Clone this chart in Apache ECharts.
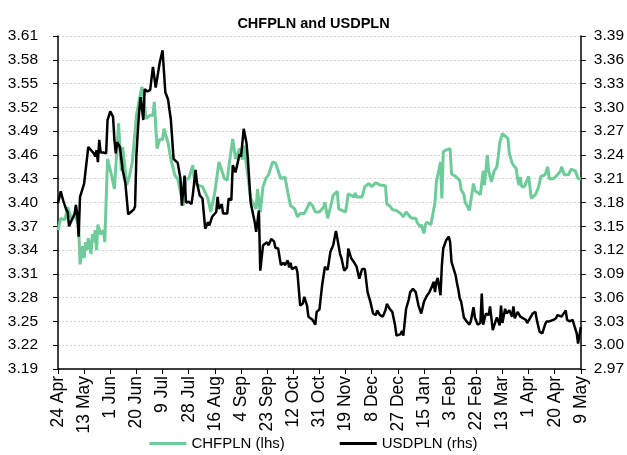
<!DOCTYPE html>
<html>
<head>
<meta charset="utf-8">
<script src="https://cdn.jsdelivr.net/npm/echarts@6/dist/echarts.min.js"></script>
<style>html,body{margin:0;padding:0;background:#fff}#c{width:627px;height:455px}</style>
</head>
<body>
<div id="c"></div>
<script>
// Days counted from 24 Apr 2017 (day 0) to 9 May 2018 (day 380)
const startDate = '2017-04-24';
const tickLabels = ['24 Apr','13 May','1 Jun','20 Jun','9 Jul','28 Jul','16 Aug','4 Sep','23 Sep','12 Oct','31 Oct','19 Nov','8 Dec','27 Dec','15 Jan','3 Feb','22 Feb','13 Mar','1 Apr','20 Apr','9 May'];

const chfDays = [0,2,5,7,10,12,15,16,17,18,19,20,21,22,24,25,26,27,28,29,31,33,34,36,39,41,44,46,47,50,52,54,57,59,61,62,63,64,67,69,70,72,74,76,77,80,82,85,87,88,91,93,95,98,99,101,105,109,111,114,117,121,123,124,127,129,132,134,135,138,140,144,145,147,149,151,153,156,158,162,165,167,169,172,174,176,179,183,185,187,190,193,194,196,198,200,203,204,209,211,215,216,217,221,223,226,228,229,231,234,238,239,241,243,246,249,251,253,255,257,260,261,263,264,266,267,268,271,272,274,275,278,279,280,282,285,286,289,292,293,295,296,297,299,302,303,307,308,309,310,312,313,315,317,319,320,321,323,327,328,330,331,333,334,335,336,337,339,342,343,344,347,349,351,354,356,357,360,362,365,366,368,371,373,376,378,380];
const chfValues = [3.365,3.38,3.378,3.394,3.378,3.385,3.372,3.322,3.335,3.345,3.33,3.35,3.34,3.355,3.335,3.36,3.35,3.365,3.34,3.372,3.36,3.365,3.35,3.455,3.434,3.417,3.50,3.44,3.47,3.422,3.434,3.451,3.51,3.529,3.546,3.546,3.52,3.506,3.51,3.51,3.527,3.468,3.48,3.479,3.493,3.475,3.455,3.434,3.43,3.422,3.396,3.43,3.43,3.447,3.43,3.422,3.42,3.405,3.388,3.413,3.451,3.43,3.428,3.443,3.48,3.455,3.468,3.454,3.472,3.434,3.405,3.392,3.417,3.388,3.42,3.43,3.435,3.451,3.45,3.43,3.432,3.413,3.396,3.392,3.382,3.386,3.386,3.40,3.396,3.388,3.388,3.394,3.40,3.38,3.394,3.409,3.414,3.392,3.388,3.411,3.407,3.412,3.407,3.407,3.42,3.424,3.42,3.42,3.425,3.422,3.421,3.398,3.396,3.391,3.39,3.386,3.382,3.388,3.384,3.38,3.38,3.375,3.369,3.372,3.361,3.372,3.375,3.372,3.371,3.40,3.426,3.451,3.405,3.464,3.466,3.468,3.436,3.433,3.428,3.416,3.41,3.40,3.397,3.39,3.424,3.415,3.41,3.409,3.44,3.422,3.46,3.44,3.426,3.44,3.445,3.458,3.475,3.487,3.481,3.462,3.45,3.447,3.443,3.43,3.422,3.432,3.42,3.42,3.433,3.42,3.405,3.41,3.418,3.433,3.435,3.445,3.43,3.43,3.433,3.439,3.445,3.435,3.435,3.442,3.44,3.43,3.43];

const usdDays = [0,2,4,6,7,8,10,12,13,14,15,16,18,19,20,22,23,26,27,28,29,30,31,33,35,36,38,40,41,42,43,45,47,49,51,53,55,56,57,58,59,60,62,63,65,67,68,69,71,72,74,76,77,78,80,81,82,84,87,89,90,92,93,95,97,98,100,101,103,105,107,109,110,112,115,116,117,119,120,123,124,126,127,129,130,132,133,135,137,138,140,143,144,146,147,149,152,153,155,157,158,160,162,164,165,167,168,169,170,173,174,176,178,179,181,182,185,187,188,190,192,194,196,198,200,202,203,205,206,208,210,211,213,215,217,219,221,223,225,227,229,231,232,234,236,238,239,241,243,245,246,249,250,251,253,255,256,258,260,262,264,266,268,270,272,273,274,275,276,278,279,280,282,284,285,286,289,290,291,292,293,295,297,299,300,302,303,305,307,308,309,311,313,314,316,318,319,321,322,323,325,326,328,330,331,332,333,334,336,338,340,341,343,345,347,348,350,352,354,355,356,357,358,360,361,362,363,366,367,369,370,372,374,375,377,378,380];
const usdValues = [3.179,3.194,3.181,3.171,3.168,3.15,3.158,3.165,3.177,3.165,3.137,3.187,3.198,3.204,3.204,3.25,3.251,3.242,3.238,3.246,3.231,3.259,3.243,3.243,3.242,3.284,3.295,3.288,3.259,3.242,3.256,3.25,3.221,3.204,3.165,3.168,3.171,3.175,3.24,3.27,3.295,3.313,3.284,3.323,3.32,3.322,3.323,3.351,3.325,3.326,3.357,3.372,3.372,3.319,3.31,3.297,3.285,3.235,3.23,3.21,3.176,3.214,3.18,3.181,3.178,3.19,3.221,3.205,3.189,3.185,3.147,3.155,3.151,3.162,3.168,3.187,3.172,3.178,3.166,3.166,3.185,3.183,3.227,3.218,3.216,3.241,3.238,3.273,3.255,3.235,3.18,3.155,3.143,3.17,3.094,3.126,3.13,3.126,3.134,3.131,3.123,3.122,3.101,3.104,3.101,3.107,3.098,3.104,3.096,3.099,3.092,3.05,3.053,3.061,3.05,3.036,3.032,3.026,3.042,3.045,3.076,3.099,3.095,3.118,3.126,3.144,3.135,3.115,3.11,3.094,3.098,3.122,3.11,3.105,3.099,3.084,3.096,3.096,3.067,3.055,3.04,3.038,3.044,3.038,3.036,3.044,3.052,3.046,3.042,3.025,3.012,3.014,3.018,3.012,3.046,3.058,3.067,3.071,3.067,3.05,3.04,3.055,3.062,3.067,3.075,3.08,3.067,3.08,3.085,3.063,3.101,3.122,3.132,3.137,3.13,3.105,3.088,3.078,3.07,3.059,3.055,3.035,3.03,3.026,3.03,3.048,3.035,3.026,3.028,3.065,3.026,3.04,3.038,3.049,3.019,3.03,3.035,3.025,3.05,3.028,3.046,3.04,3.044,3.036,3.049,3.034,3.036,3.042,3.036,3.034,3.032,3.028,3.034,3.04,3.042,3.032,3.017,3.015,3.026,3.03,3.028,3.03,3.028,3.032,3.03,3.034,3.038,3.036,3.038,3.044,3.032,3.03,3.032,3.03,3.015,3.002,3.023];

const leftTicks = {min: 3.19, max: 3.61, step: 0.03};
const rightTicks = {min: 2.97, max: 3.39, step: 0.03};

const FONT = "'Liberation Sans', Arial, sans-serif";
const chfData = chfDays.map((d, i) => [d, chfValues[i]]);
const usdData = usdDays.map((d, i) => [d, usdValues[i]]);

const chart = echarts.init(document.getElementById('c'), null, {renderer: 'canvas'});
chart.setOption({
  animation: false,
  backgroundColor: '#fff',
  title: {
    text: 'CHFPLN and USDPLN', left: 'center', top: 11,
    textStyle: {fontFamily: FONT, fontSize: 14.5, fontWeight: 'bold', color: '#000'}
  },
  legend: {
    top: 431, left: 'center', itemGap: 55, itemWidth: 37, itemHeight: 3, icon: 'rect',
    textStyle: {fontFamily: FONT, fontSize: 15, color: '#000'},
    data: ['CHFPLN (lhs)', 'USDPLN (rhs)']
  },
  grid: {left: 58, right: 44, top: 36, bottom: 86, containLabel: false},
  xAxis: {
    type: 'value', min: 0, max: 380, interval: 19,
    axisLine: {lineStyle: {color: '#000', width: 1.5}},
    axisTick: {show: true, length: 5, lineStyle: {color: '#000'}},
    splitLine: {show: false},
    axisLabel: {
      rotate: 90, margin: 7, color: '#000', fontFamily: FONT, fontSize: 17.5,
      formatter: v => tickLabels[Math.round(v / 19)] || ''
    }
  },
  yAxis: [{
    type: 'value', position: 'left', min: leftTicks.min, max: leftTicks.max, interval: leftTicks.step,
    axisLine: {show: true, lineStyle: {color: '#000', width: 1.5}},
    axisTick: {show: true, length: 5, lineStyle: {color: '#000'}},
    splitLine: {show: true, lineStyle: {color: '#d4d4d4', type: [2, 2], width: 1}},
    axisLabel: {color: '#000', fontFamily: FONT, fontSize: 15.5, margin: 20, formatter: v => v.toFixed(2)}
  }, {
    type: 'value', position: 'right', min: rightTicks.min, max: rightTicks.max, interval: rightTicks.step,
    axisLine: {show: true, lineStyle: {color: '#000', width: 1.5}},
    axisTick: {show: true, length: 5, lineStyle: {color: '#000'}},
    splitLine: {show: false},
    axisLabel: {color: '#000', fontFamily: FONT, fontSize: 15.5, margin: 13, formatter: v => v.toFixed(2)}
  }],
  series: [{
    name: 'CHFPLN (lhs)', type: 'line', yAxisIndex: 0, data: chfData,
    showSymbol: false, symbol: 'none', color: '#6fcb9a',
    lineStyle: {width: 3, color: '#6fcb9a'}, z: 2
  }, {
    name: 'USDPLN (rhs)', type: 'line', yAxisIndex: 1, data: usdData,
    showSymbol: false, symbol: 'none', color: '#000',
    lineStyle: {width: 2.5, color: '#000'}, z: 3
  }]
});
</script>
</body>
</html>
